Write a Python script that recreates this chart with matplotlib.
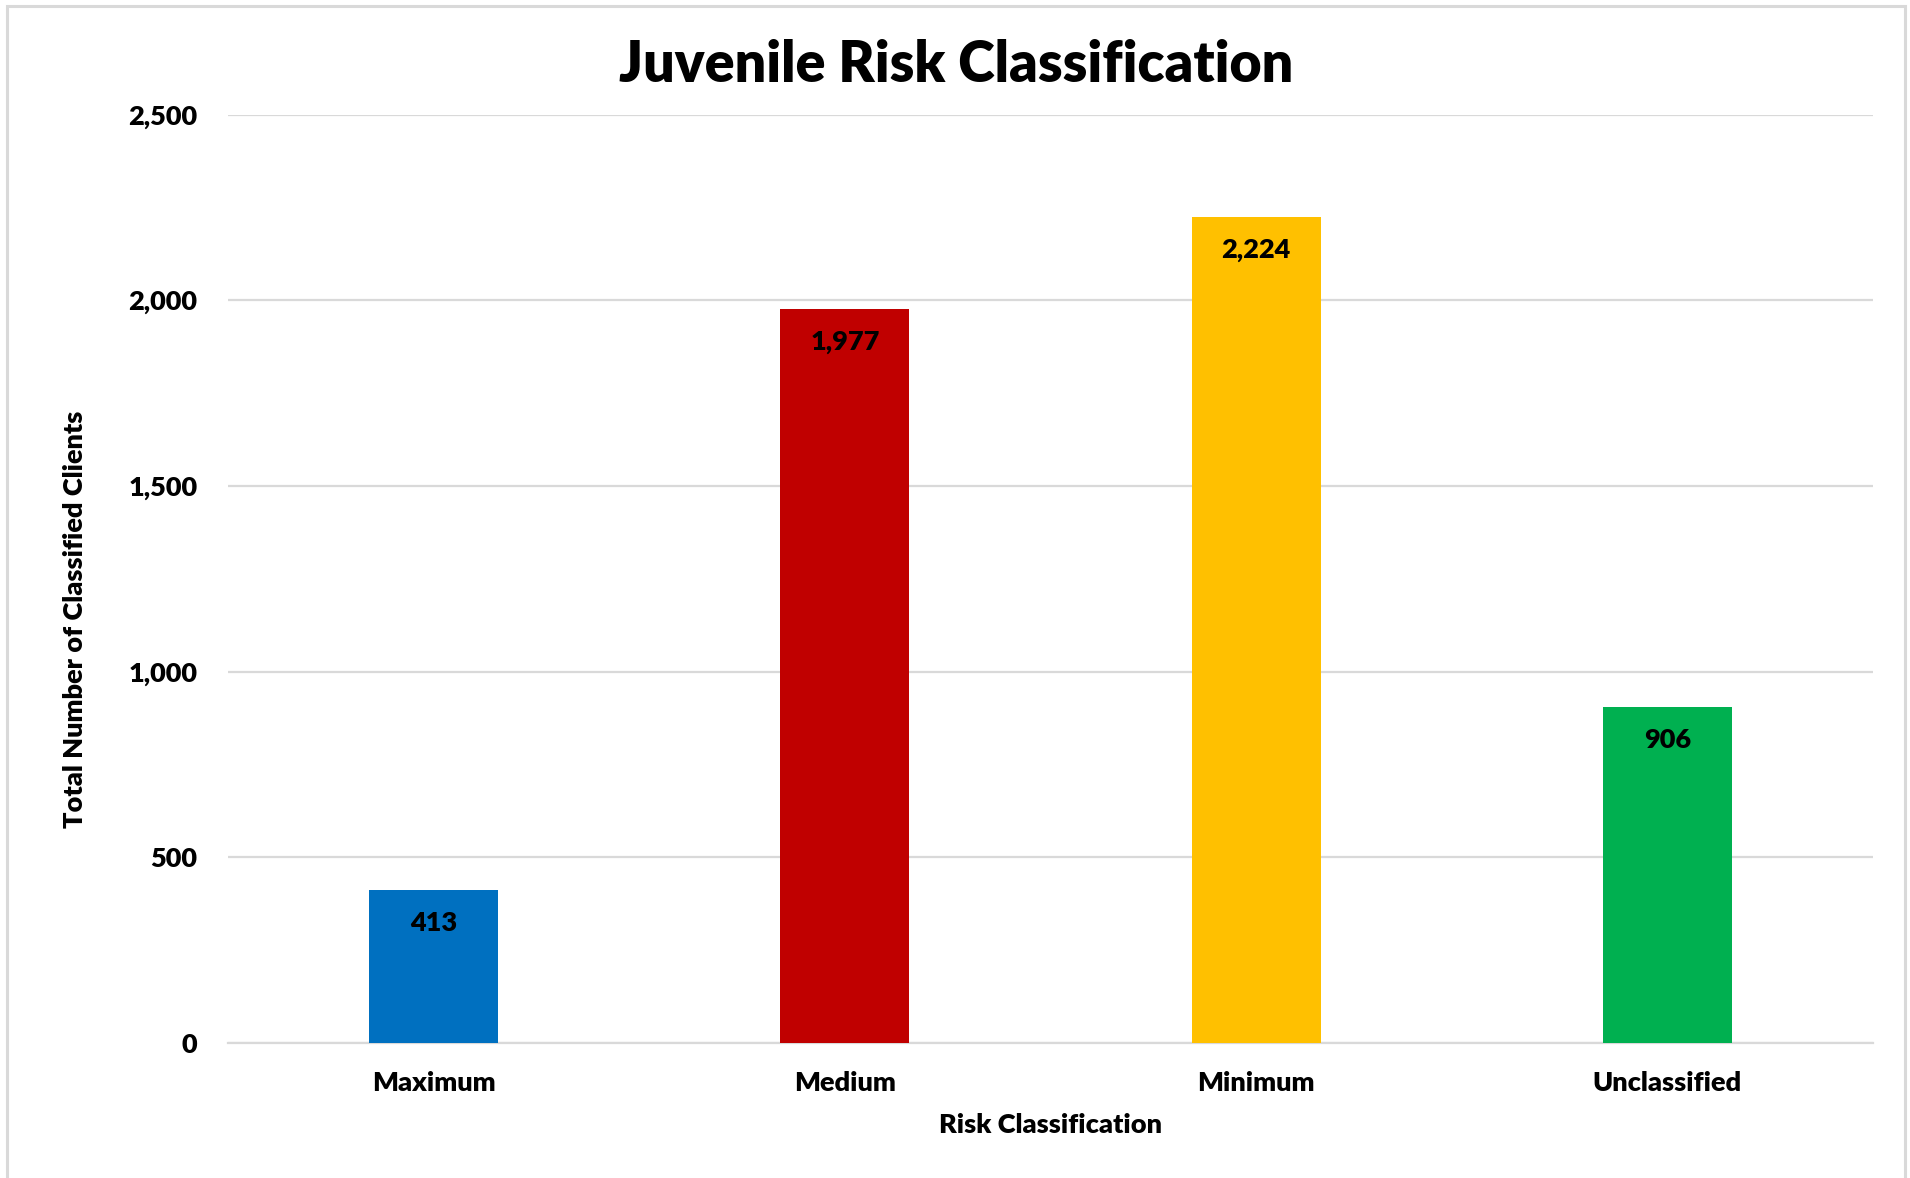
import matplotlib
matplotlib.use("Agg")
import matplotlib.pyplot as plt
from matplotlib.patches import Rectangle
from matplotlib.ticker import FuncFormatter

categories = ["Maximum", "Medium", "Minimum", "Unclassified"]
values = [413, 1977, 2224, 906]
colors = ["#0070C0", "#C00000", "#FFC000", "#00B050"]
yticks = [0, 500, 1000, 1500, 2000, 2500]

plt.rcParams['font.family'] = ['Lato', 'DejaVu Sans']

W, H = 1910, 1178
fig = plt.figure(figsize=(W / 100, H / 100), dpi=100)
fig.patch.set_facecolor("white")

# outer border
fig.patches.append(Rectangle((7 / W, -0.01), (1905 - 7) / W, 1 - 6 / H + 0.01,
                             transform=fig.transFigure, fill=False,
                             edgecolor="#D9D9D9", linewidth=2.2, zorder=0))

left, right = 228 / W, 1873 / W
bottom, top = 1 - 1043 / H, 1 - 114.5 / H
ax = fig.add_axes([left, bottom, right - left, top - bottom])

x = range(len(categories))
bars = ax.bar(x, values, width=0.314, color=colors, zorder=3)

FW = "heavy"
FS = 19.5

ax.set_xlim(-0.5, len(categories) - 0.5)
ax.set_ylim(0, 2500)
ax.set_yticks(yticks)
ax.yaxis.set_major_formatter(FuncFormatter(lambda v, p: f"{int(v):,}"))
ax.set_xticks(list(x))
ax.set_xticklabels(categories)
ax.grid(axis="y", color="#D9D9D9", linewidth=1.6, zorder=0)
ax.set_axisbelow(True)
for s in ["top", "right", "left"]:
    ax.spines[s].set_visible(False)
ax.spines["bottom"].set_color("#D9D9D9")
ax.spines["bottom"].set_linewidth(1.6)
ax.tick_params(axis="both", length=0, labelsize=FS)
ax.tick_params(axis="y", pad=22)
ax.tick_params(axis="x", pad=20)
for lab in ax.get_xticklabels() + ax.get_yticklabels():
    lab.set_fontweight(FW)

for b, v in zip(bars, values):
    ax.annotate(f"{v:,}", (b.get_x() + b.get_width() / 2, v),
                xytext=(0, -33), textcoords="offset pixels",
                ha="center", va="center", fontsize=FS, fontweight=FW,
                color="black", zorder=4)

ax.set_xlabel("Risk Classification", fontsize=FS, fontweight=FW)
ax.xaxis.set_label_coords(0.5, -0.088)
ax.xaxis.label.set_va("center")
ax.set_ylabel("Total Number of Classified Clients", fontsize=FS, fontweight=FW)
ax.yaxis.set_label_coords((75 - 228) / 1645, (1043 - 619) / 928.5)
ax.yaxis.label.set_va("center")

fig.text(956 / W, 1 - 65 / H, "Juvenile Risk Classification", ha="center", va="center",
         fontsize=40, fontweight=FW)

fig.savefig("out.png", dpi=100, facecolor="white")
